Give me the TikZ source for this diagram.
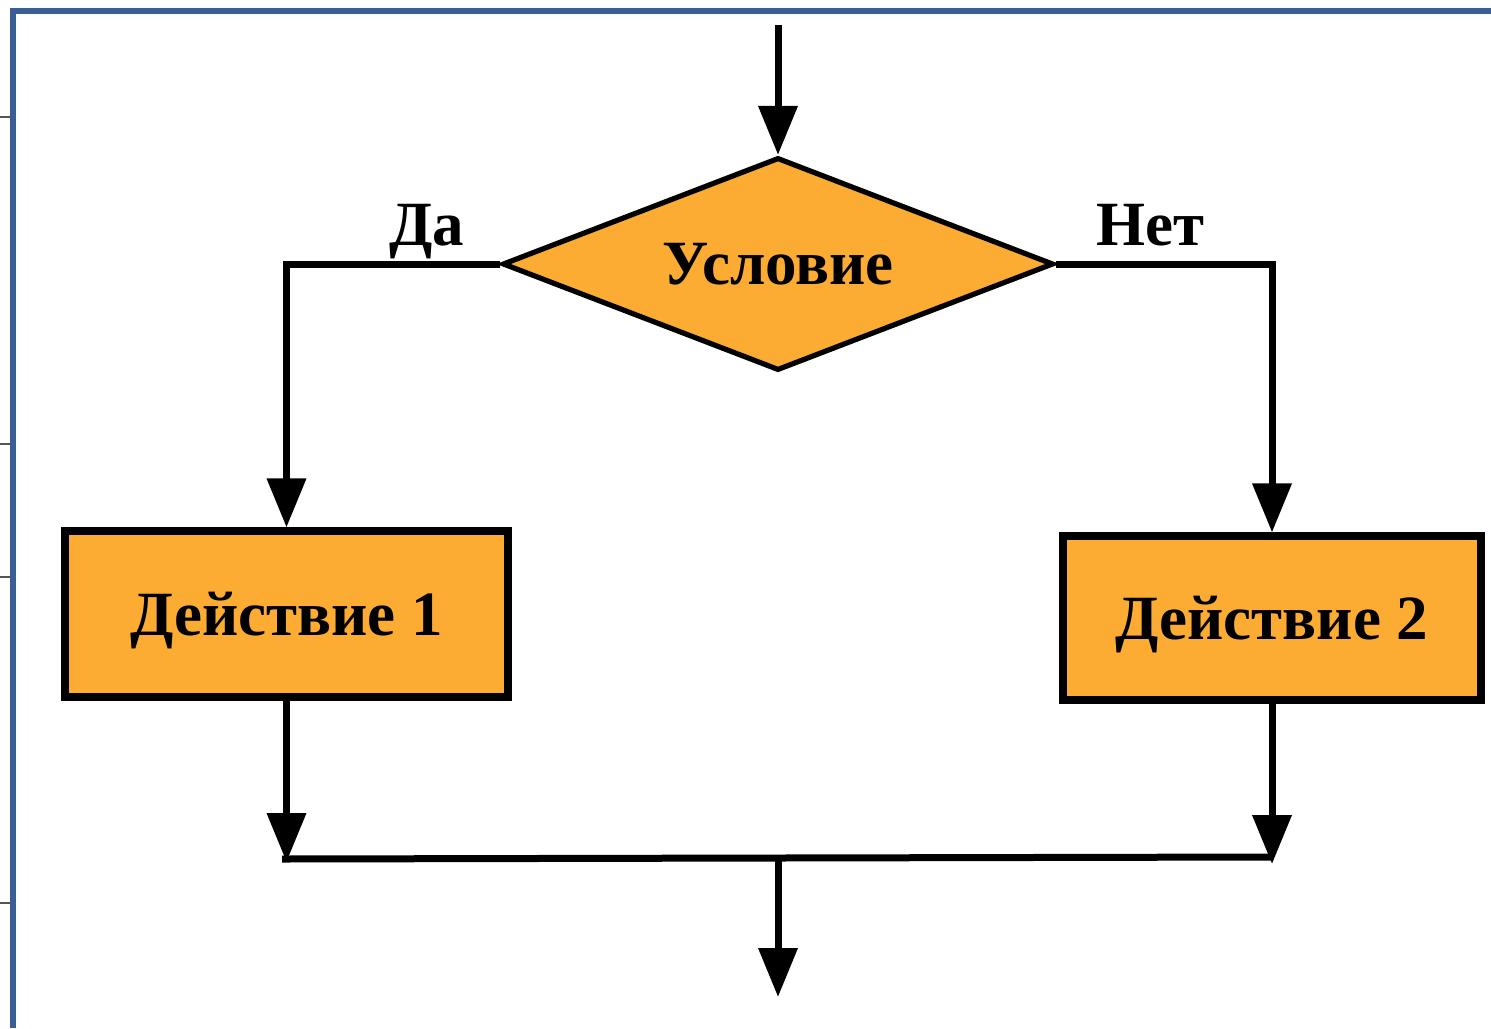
\documentclass[tikz,border=0pt]{standalone}
\usepackage{fontspec}
\setmainfont{Liberation Serif}
\usetikzlibrary{shapes.geometric,arrows.meta}
\definecolor{boxorange}{RGB}{252,171,51}
\definecolor{frameblue}{RGB}{58,95,148}
\definecolor{tickgray}{RGB}{85,85,85}
\tikzset{
  conn/.style={line width=3.5pt,-{Triangle[length=24.5pt,width=19pt]}},
  plain/.style={line width=3.5pt},
  actbox/.style={draw,line width=3.6pt,fill=boxorange,rectangle,inner sep=0pt,
    font=\fontsize{31.5}{36}\selectfont\bfseries,text depth=0pt},
  decide/.style={draw,line width=2.6pt,fill=boxorange,diamond,shape aspect=2.6,inner sep=0pt,
    font=\fontsize{31.5}{36}\selectfont\bfseries,text depth=0pt},
  lbl/.style={font=\fontsize{31.5}{36}\selectfont\bfseries,anchor=base,inner sep=0pt},
  frameline/.style={draw=frameblue,line width=2.6pt},
  tick/.style={draw=tickgray,line width=1pt}
}
\begin{document}
\begin{tikzpicture}[x=0.5pt,y=-0.5pt]
\useasboundingbox (0,0) rectangle (1491,1028);
% frame
\coordinate (fa) at (10,11);
\coordinate (fb) at (1491,11);
\coordinate (fc) at (13,8);
\coordinate (fd) at (13,1028);
\draw[frameline] (fa) -- (fb);
\draw[frameline] (fc) -- (fd);
\foreach \yy/\nm in {117/ta,444/tb,577/tc,903/td}{
  \coordinate (\nm1) at (0,\yy);
  \coordinate (\nm2) at (11,\yy);
  \draw[tick] (\nm1) -- (\nm2);
}
% nodes
\node[decide,minimum width=275.5pt,minimum height=106.5pt] (cond) at (778,264) {Условие};
\node[actbox,minimum width=221.5pt,minimum height=83pt] (act1) at (286.5,614) {Действие 1};
\node[actbox,minimum width=209pt,minimum height=82pt] (act2) at (1272,618) {Действие 2};
\node[lbl] (yes) at (427,245) {Да};
\node[lbl] (no) at (1150,245) {Нет};
% connectors
\coordinate (start) at (778,25);
\draw[conn] (start) -- (cond.north);
\draw[conn] (cond.west) -| (act1.north);
\draw[conn] (cond.east) -| (act2.north);
\coordinate (m1) at (286.5,862);
\coordinate (m2) at (1272,864);
\draw[conn] (act1.south) -- (m1);
\draw[conn] (act2.south) -- (m2);
\coordinate (j1) at (282,859);
\coordinate (j2) at (1273,857);
\draw[plain] (j1) -- (j2);
\coordinate (jm) at (778,858);
\coordinate (stop) at (778,997);
\draw[conn] (jm) -- (stop);
\end{tikzpicture}
\end{document}
